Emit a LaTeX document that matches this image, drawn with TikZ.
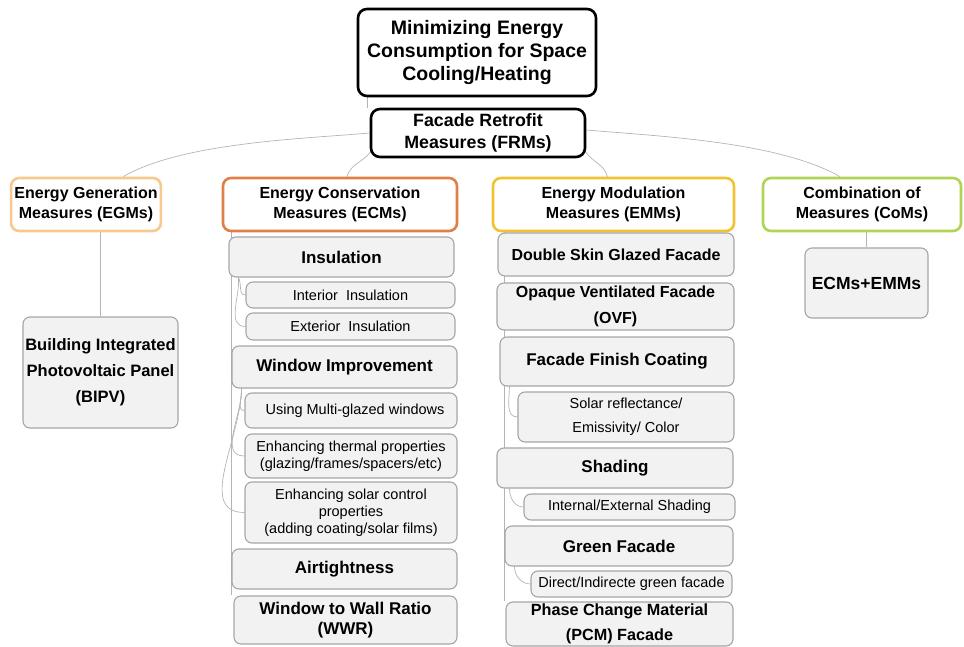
\documentclass[tikz,border=0pt]{standalone}
\usepackage{fontspec}
\setmainfont{Liberation Sans}
\usetikzlibrary{positioning,backgrounds}

\definecolor{egmcol}{HTML}{F7C98E}
\definecolor{ecmcol}{HTML}{E08048}
\definecolor{emmcol}{HTML}{F2C230}
\definecolor{comcol}{HTML}{B0D455}
\definecolor{boxfill}{HTML}{F2F2F2}
\definecolor{boxline}{HTML}{A6A6A6}
\definecolor{linkcol}{HTML}{B4B4B4}

\begin{document}
\begin{tikzpicture}[x=1pt,y=-1pt,
  topbox/.style={draw,line width=2.6pt,rounded corners=9pt,align=center,fill=white},
  catbox/.style={draw,line width=2.6pt,rounded corners=8pt,align=center,fill=white,font=\bfseries\fontsize{16}{20}\selectfont},
  itembox/.style={draw=boxline,line width=1.1pt,fill=boxfill,rounded corners=7pt,align=center,inner sep=1pt,font=\bfseries\fontsize{17}{20}\selectfont},
  subbox/.style={itembox,font=\fontsize{14.5}{17}\selectfont},
  link/.style={draw=linkcol,line width=0.7pt}]
\useasboundingbox (0,0) rectangle (964,647);

% top of the tree
\node[topbox,minimum width=238pt,minimum height=87pt,font=\bfseries\fontsize{19.5}{23}\selectfont] (root) at (477,52.5) {Minimizing Energy\\Consumption for Space\\Cooling/Heating};
\node[topbox,minimum width=214pt,minimum height=48pt,font=\bfseries\fontsize{17.8}{22}\selectfont] (frm) at (478,133) {Facade Retrofit\\Measures (FRMs)};

% the four groups
\node[catbox,draw=egmcol,minimum width=146pt,minimum height=53pt] (egm) at (86,204.5) {Energy Generation\\Measures (EGMs)};
\node[catbox,draw=ecmcol,minimum width=234pt,minimum height=53pt] (ecm) at (340,204.5) {Energy Conservation\\Measures (ECMs)};
\node[catbox,draw=emmcol,minimum width=241pt,minimum height=53pt] (emm) at (613.5,204.5) {Energy Modulation\\Measures (EMMs)};
\node[catbox,draw=comcol,minimum width=198pt,minimum height=53pt] (com) at (862,204.5) {Combination of\\Measures (CoMs)};

% generation and combination
\node[itembox,minimum width=155pt,minimum height=111pt,font=\bfseries\fontsize{16.5}{20}\selectfont] (bipv) at (100.5,372.5) {Building Integrated\\[6pt]Photovoltaic Panel\\[6pt](BIPV)};
\node[itembox,minimum width=123pt,minimum height=70pt,font=\bfseries\fontsize{17.5}{20}\selectfont] (combo) at (866.5,283) {ECMs+EMMs};

% conservation column
\node[itembox,minimum width=225pt,minimum height=40pt] (ins) at (341.5,257) {Insulation};
\node[subbox,minimum width=209pt,minimum height=26pt] (intins) at (350.5,295) {Interior\ \ Insulation};
\node[subbox,minimum width=209pt,minimum height=27pt] (extins) at (350.5,326.5) {Exterior\ \ Insulation};
\node[itembox,minimum width=225pt,minimum height=42pt] (win) at (344.5,367) {Window Improvement};
\node[subbox,minimum width=212pt,minimum height=35pt] (multi) at (351,410.5) {\ \ Using Multi-glazed windows};
\node[subbox,minimum width=212pt,minimum height=44pt] (therm) at (351,456) {Enhancing thermal properties\\(glazing/frames/spacers/etc)};
\node[subbox,minimum width=212pt,minimum height=61pt] (solar) at (351,512.5) {Enhancing solar control\\properties\\(adding coating/solar films)};
\node[itembox,minimum width=225pt,minimum height=40pt] (air) at (344.5,569) {Airtightness};
\node[itembox,minimum width=223pt,minimum height=48pt] (wwr) at (345.5,620) {Window to Wall Ratio\\(WWR)};

% modulation column
\node[itembox,minimum width=236pt,minimum height=43pt,font=\bfseries\fontsize{16}{20}\selectfont] (dsf) at (616,254.5) {Double Skin Glazed Facade};
\node[itembox,minimum width=237pt,minimum height=47pt,font=\bfseries\fontsize{16}{20}\selectfont] (ovf) at (615.5,306.5) {Opaque Ventilated Facade\\[6pt](OVF)};
\node[itembox,minimum width=234pt,minimum height=49pt] (ffc) at (617,361.5) {Facade Finish Coating};
\node[subbox,minimum width=216pt,minimum height=50pt] (sre) at (626,417) {Solar reflectance/\\[7pt]Emissivity/ Color};
\node[itembox,minimum width=236pt,minimum height=40pt] (shd) at (615,468) {Shading};
\node[subbox,minimum width=211pt,minimum height=26pt] (ies) at (629.5,507) {Internal/External Shading};
\node[itembox,minimum width=228pt,minimum height=40pt] (grn) at (619,546) {Green Facade};
\node[subbox,minimum width=201pt,minimum height=26pt] (dig) at (631.5,584) {Direct/Indirecte green facade};
\node[itembox,minimum width=227pt,minimum height=44pt,font=\bfseries\fontsize{16.2}{20}\selectfont] (pcm) at (619.5,624) {Phase Change Material\\[5pt](PCM) Facade};

% connectors behind the boxes
\begin{scope}[on background layer]
\draw[link] ([xshift=-2pt]frm.north west) -- ([xshift=-2pt]frm.north west |- root.south);
\draw[link] (frm.west) to[out=185,in=30,looseness=0.7] ([xshift=37pt]egm.north);
\draw[link] ([xshift=3pt,yshift=11pt]frm.south west) to[out=-110,in=75] ([xshift=7pt]ecm.north);
\draw[link] ([xshift=-3pt,yshift=11pt]frm.south east) to[out=-70,in=105] ([xshift=-6pt]emm.north);
\draw[link] ([yshift=3pt]frm.east) to[out=-5,in=150,looseness=0.7] ([xshift=-22pt]com.north);
\draw[link] (bipv.north |- egm.south) -- (bipv.north);
\draw[link] (combo.north |- com.south) -- (combo.north);
% conservation branches
\draw[link] ([xshift=10pt]ecm.south west) -- ([xshift=10pt]ecm.south west |- wwr.north);
\draw[link] ([xshift=10pt]ins.south west) to[out=-60,in=180] (intins.west);
\draw[link] ([xshift=10pt]ins.south west) to[out=-85,in=180] (extins.west);
\draw[link] ([xshift=10pt]win.south west) to[out=-80,in=180] (multi.west);
\draw[link] ([xshift=10pt]win.south west) to[out=-88,in=180] (therm.west);
\draw[link] ([xshift=10pt]win.south west) to[out=-90,in=180] (solar.west);
% modulation branches
\draw[link] ([xshift=13pt]emm.south west) -- ([xshift=13pt]emm.south west |- pcm.north);
\draw[link] ([xshift=10pt]ffc.south west) to[out=-90,in=180] (sre.west);
\draw[link] ([xshift=13pt]shd.south west) to[out=-90,in=180] (ies.west);
\draw[link] ([xshift=10pt]grn.south west) to[out=-90,in=180] (dig.west);
\end{scope}
\end{tikzpicture}
\end{document}
